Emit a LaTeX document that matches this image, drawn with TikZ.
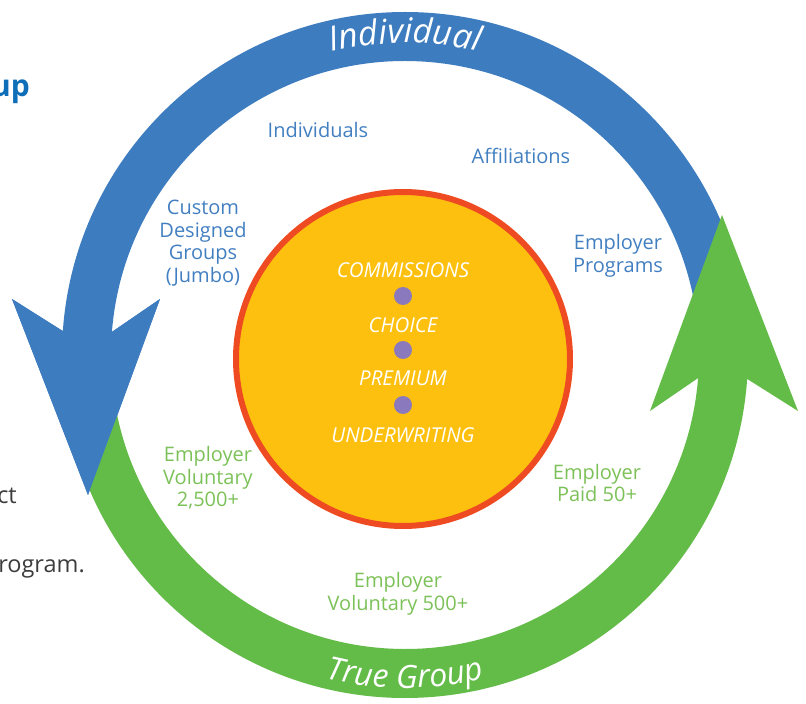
\documentclass[tikz,border=0pt]{standalone}
\usepackage{fontspec}
\setmainfont{Open Sans}
\usetikzlibrary{decorations.text}

\definecolor{ringblue}{RGB}{62,124,192}
\definecolor{ringgreen}{RGB}{99,187,72}
\definecolor{hubfill}{RGB}{254,192,14}
\definecolor{hubrim}{RGB}{238,75,35}
\definecolor{dotpurple}{RGB}{139,121,190}
\definecolor{labelblue}{RGB}{66,127,193}
\definecolor{labelgreen}{RGB}{124,193,88}
\definecolor{headblue}{RGB}{14,110,184}
\definecolor{textgray}{RGB}{60,60,60}

\tikzset{
  bluelabel/.style={text=labelblue, align=center, font=\fontsize{20}{22.5}\selectfont},
  greenlabel/.style={text=labelgreen, align=center, font=\fontsize{20}{22.5}\selectfont},
  hubtext/.style={text=white, font=\fontsize{20.5}{20.5}\selectfont\itshape},
  hubdot/.style={circle, fill=dotpurple, minimum size=18pt},
  sidetext/.style={text=textgray, anchor=base east, font=\fontsize{23.5}{23.5}\selectfont},
}

\begin{document}
\begin{tikzpicture}[x=1pt, y=1pt]
	\tikzstyle{every node}+=[inner sep=0pt]
	\useasboundingbox (-405,-349) rectangle (401,355);
	\clip (-405,-349) rectangle (401,355);
	% arrow heads
	\coordinate (bluetip) at (-317,-140);
	\coordinate (bluebarbout) at (-393,56);
	\coordinate (bluebarbin) at (-245,56);
	\coordinate (greentip) at (317,140);
	\coordinate (greenbarbout) at (393,-56);
	\coordinate (greenbarbin) at (245,-56);
	% blue ring arrow (individual)
	\fill [ringblue] (0:343) arc [start angle=0, end angle=176, radius=343]
		-- (bluebarbout) -- (bluetip) -- (bluebarbin)
		-- (175.5:294) arc [start angle=175.5, end angle=0, radius=294] -- cycle;
	% green ring arrow (true group)
	\fill [ringgreen] (180:343) arc [start angle=180, end angle=356, radius=343]
		-- (greenbarbout) -- (greentip) -- (greenbarbin)
		-- (355.5:294) arc [start angle=355.5, end angle=180, radius=294] -- cycle;
	% blue head again on top of the green tail
	\fill [ringblue] (176:343) -- (bluebarbout) -- (bluetip) -- (bluebarbin) -- (175.5:294) -- cycle;
	% ring titles
	\path [decorate, decoration={text along path, text align=center, text color=white,
		text={|\fontsize{34}{34}\selectfont\itshape|Individual}}]
		(120:312) arc [start angle=120, end angle=60, radius=312];
	\path [decorate, decoration={text along path, text align=center, text color=white,
		text={|\fontsize{32}{32}\selectfont\itshape|True Group}}]
		(235:333) arc [start angle=235, end angle=305, radius=333];
	% hub
	\node [circle, draw=hubrim, line width=6pt, fill=hubfill, minimum size=334pt] (hub) at (-2,-4) {};
	\node [hubtext] (commissions) at (-2,85) {COMMISSIONS};
	\node [hubdot] (dota) at (-2,59) {};
	\node [hubtext] (choice) at (-2,30) {CHOICE};
	\node [hubdot] (dotb) at (-2,5) {};
	\node [hubtext] (premium) at (-2,-23) {PREMIUM};
	\node [hubdot] (dotc) at (-2,-50) {};
	\node [hubtext] (underwriting) at (-2,-80) {UNDERWRITING};
	% segment labels
	\node [bluelabel] (individuals) at (-87,225) {Individuals};
	\node [bluelabel] (affiliations) at (116,199) {Affiliations};
	\node [bluelabel] (emplprog) at (213,99) {Employer\\Programs};
	\node [bluelabel] (jumbo) at (-202,112) {Custom\\Designed\\Groups\\(Jumbo)};
	\node [greenlabel] (emplvolbig) at (-197,-123) {Employer\\Voluntary\\2,500+};
	\node [greenlabel] (emplpaid) at (192,-128) {Employer\\Paid 50+};
	\node [greenlabel] (emplvol) at (-7,-239) {Employer\\Voluntary 500+};
	% cut-off page text on the left
	\node [text=headblue, anchor=base east, font=\fontsize{30}{30}\selectfont\bfseries] (upfrag) at (-375,258) {up};
	\node [sidetext] (ctfrag) at (-388,-148) {ct};
	\node [sidetext] (programfrag) at (-320,-217) {rogram.};
\end{tikzpicture}
\end{document}
